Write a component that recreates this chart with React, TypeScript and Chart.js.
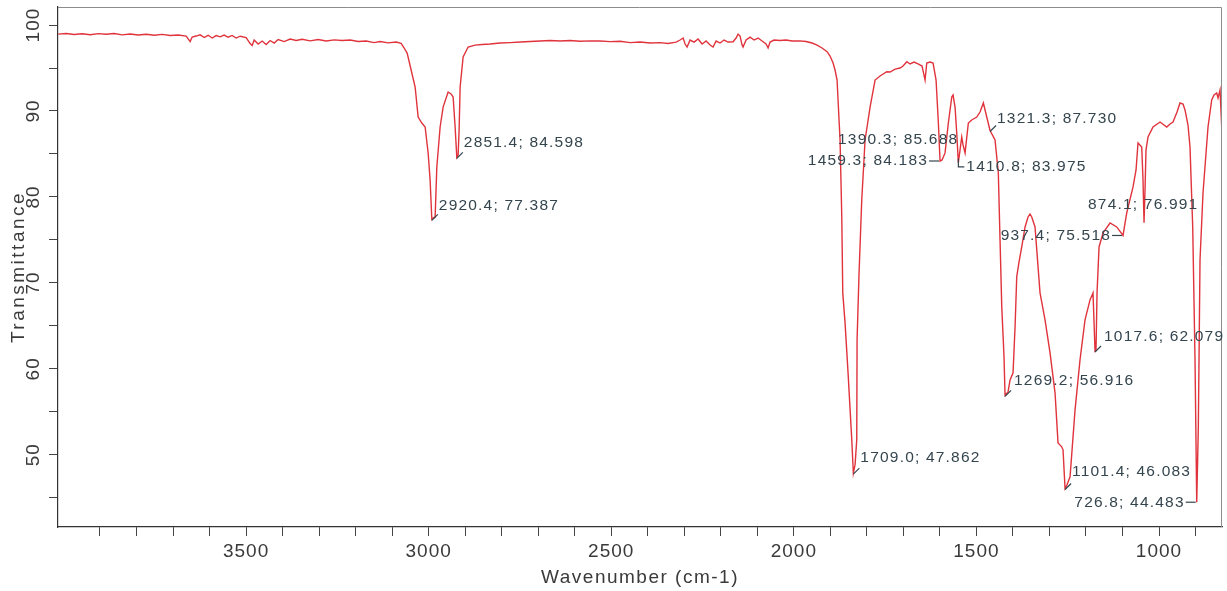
import React, { useEffect, useRef } from "react";
import { Chart, registerables } from "chart.js";

Chart.register(...registerables);

// ---- spectrum data (wavenumber on the plotted axis, % transmittance) ----
const wavenumber = [
  4014.5, 3992.6, 3970.7, 3948.8, 3926.9, 3905.0, 3883.1, 3861.2, 3839.3, 3817.4,
  3795.5, 3773.6, 3751.6, 3729.7, 3707.8, 3685.9, 3664.0, 3653.1, 3647.6, 3636.7,
  3625.7, 3614.7, 3603.8, 3592.8, 3581.9, 3570.9, 3560.0, 3549.0, 3538.1, 3527.1,
  3516.2, 3499.8, 3488.8, 3483.3, 3477.8, 3466.9, 3455.9, 3445.0, 3434.0, 3423.1,
  3412.1, 3395.7, 3379.3, 3362.9, 3346.4, 3324.5, 3302.6, 3280.7, 3258.8, 3236.9,
  3215.0, 3193.1, 3171.2, 3149.3, 3132.9, 3111.0, 3089.1, 3075.4, 3067.1, 3058.9,
  3048.0, 3037.0, 3028.8, 3018.7, 3009.6, 3001.4, 2996.0, 2991.3, 2987.7, 2982.3,
  2977.6, 2968.6, 2960.4, 2946.7, 2938.5, 2933.0, 2927.5, 2922.9, 2919.3, 2916.6,
  2913.8, 2905.6, 2891.9, 2872.7, 2853.6, 2831.7, 2804.3, 2776.9, 2749.5, 2722.2,
  2694.8, 2667.4, 2640.0, 2612.6, 2585.3, 2557.9, 2530.5, 2503.1, 2475.7, 2448.4,
  2421.0, 2393.6, 2366.2, 2344.3, 2322.4, 2311.5, 2303.2, 2297.8, 2292.3, 2284.1,
  2273.1, 2262.2, 2251.2, 2240.3, 2229.3, 2221.1, 2212.9, 2201.9, 2191.0, 2180.0,
  2166.4, 2158.1, 2152.7, 2147.2, 2141.7, 2139.0, 2130.8, 2119.8, 2108.8, 2097.9,
  2086.9, 2076.0, 2070.5, 2065.0, 2054.1, 2037.7, 2021.2, 2004.8, 1982.9, 1966.5,
  1950.0, 1936.3, 1922.7, 1909.0, 1900.8, 1892.5, 1887.1, 1881.6, 1873.4, 1868.7,
  1866.0, 1859.7, 1851.5, 1841.3, 1837.0, 1832.3, 1827.7, 1826.8, 1821.4, 1814.0,
  1804.9, 1791.2, 1777.5, 1763.9, 1745.5, 1736.5, 1722.8, 1709.1, 1700.9, 1690.6,
  1681.7, 1670.8, 1659.8, 1648.9, 1640.6, 1636.0, 1627.0, 1618.7, 1610.5, 1604.2,
  1599.6, 1594.1, 1585.9, 1576.9, 1567.5, 1564.0, 1558.5, 1553.9, 1549.5, 1544.8,
  1540.2, 1536.6, 1531.1, 1522.1, 1512.8, 1499.1, 1490.1, 1481.0, 1471.7, 1462.7,
  1449.0, 1440.0, 1435.3, 1430.6, 1424.4, 1421.6, 1413.4, 1407.9, 1399.7, 1394.2,
  1389.6, 1383.3, 1375.9, 1366.8, 1358.6, 1353.2, 1348.5, 1339.5, 1325.8, 1312.1,
  1298.4, 1284.7, 1276.5, 1266.4, 1262.8, 1257.3, 1251.9, 1243.6, 1229.9, 1216.3,
  1202.6, 1188.9, 1180.7, 1175.2, 1172.5, 1169.7, 1164.2, 1153.3, 1134.1, 1115.8,
  1098.5, 1088.4, 1071.1, 1062.9, 1057.5, 1047.3, 1043.8, 1041.0, 1038.3, 1035.6,
  1030.1, 1016.4, 997.2, 978.9, 969.8, 961.6, 950.7, 942.5, 934.2, 928.8,
  920.6, 915.1, 907.7, 901.4, 896.7, 892.3, 887.7, 879.5, 865.8, 855.7,
  849.3, 842.0, 838.4, 832.9, 828.3,
];

const transmittance = [
  98.95, 99.01, 98.90, 98.98, 98.88, 99.00, 98.93, 99.02, 98.86, 98.95,
  98.84, 98.93, 98.81, 98.91, 98.79, 98.84, 98.72, 98.08, 98.60, 98.72,
  98.86, 98.55, 98.81, 98.49, 98.77, 98.63, 98.84, 98.58, 98.79, 98.49,
  98.70, 98.55, 97.85, 97.62, 98.26, 97.79, 98.14, 97.73, 98.20, 97.91,
  98.31, 98.08, 98.37, 98.20, 98.35, 98.16, 98.31, 98.14, 98.28, 98.20,
  98.26, 98.08, 98.14, 97.96, 98.08, 97.93, 98.02, 97.87, 97.33, 96.74,
  94.77, 92.79, 89.30, 88.60, 88.14, 85.12, 81.97, 77.39, 77.55, 77.67,
  83.49, 88.14, 90.46, 92.21, 91.98, 91.63, 88.14, 84.60, 84.88, 87.79,
  92.79, 96.28, 97.44, 97.67, 97.73, 97.79, 97.91, 97.96, 98.02, 98.08,
  98.14, 98.20, 98.14, 98.20, 98.12, 98.16, 98.14, 98.07, 98.12, 97.96,
  98.02, 97.91, 97.96, 97.85, 98.02, 98.26, 98.49, 97.79, 97.44, 98.26,
  98.02, 98.37, 97.79, 98.14, 97.67, 97.44, 98.14, 97.91, 98.26, 98.02,
  98.06, 98.49, 98.95, 98.72, 97.67, 97.44, 98.26, 98.60, 98.26, 98.49,
  98.14, 97.79, 97.33, 98.02, 98.26, 98.20, 98.26, 98.14, 98.16, 98.08,
  97.91, 97.67, 97.33, 96.90, 96.40, 95.58, 94.77, 93.60, 86.63, 77.67,
  68.84, 65.35, 59.53, 51.74, 47.86, 48.84, 51.74, 63.37, 71.16, 79.65,
  86.63, 90.46, 93.60, 94.07, 94.57, 94.53, 94.88, 95.00, 95.23, 95.73,
  95.47, 95.70, 95.47, 95.23, 93.60, 95.58, 95.70, 95.58, 93.60, 88.60,
  84.18, 84.30, 85.12, 88.60, 91.63, 91.86, 90.46, 87.44, 83.98, 85.47,
  86.98, 86.05, 85.12, 88.60, 88.95, 89.30, 89.88, 90.93, 89.30, 87.73,
  86.63, 82.79, 75.00, 67.21, 61.39, 56.92, 57.32, 58.72, 59.53, 64.88,
  70.70, 72.44, 74.18, 76.51, 77.67, 78.02, 77.67, 76.51, 68.84, 65.70,
  61.86, 57.21, 51.39, 50.93, 50.58, 46.08, 46.51, 47.44, 55.23, 61.05,
  65.70, 68.02, 68.84, 62.08, 62.21, 68.84, 74.18, 75.81, 76.97, 76.51,
  75.52, 78.14, 81.16, 83.14, 86.28, 85.81, 81.97, 76.99, 80.81, 85.47,
  86.98, 88.14, 88.72, 88.14, 88.49, 88.72, 89.88, 90.93, 90.81, 90.12,
  88.37, 85.81, 76.51, 61.05, 44.48, 53.26, 72.67, 80.46, 88.14, 91.28,
  91.86, 92.09, 91.51, 92.44, 88.14,
];

// ---- peak annotations ----
const peakText = [
  "2851.4; 84.598", "2920.4; 77.387", "1709.0; 47.862", "1459.3; 84.183",
  "1390.3; 85.688", "1410.8; 83.975", "1321.3; 87.730", "1269.2; 56.916",
  "1101.4; 46.083", "1017.6; 62.079", "937.4; 75.518", "874.1; 76.991",
  "726.8; 44.483",
];
const peakWavenumber = [
  2922.9, 2991.3, 1837.0, 1599.6, 1536.6, 1549.5, 1462.7, 1421.6,
  1257.3, 1175.2, 1098.5, 1041.0, 896.7,
];
const peakTransmittance = [
  84.598, 77.387, 47.862, 84.183, 85.688, 83.975, 87.73, 56.916,
  46.083, 62.079, 75.518, 76.991, 44.483,
];

// ---- axes ----
const X_MIN = 827.5;
const X_MAX = 4015;
const Y_MIN = 41.6;
const Y_MAX = 102.1;
const xTickValues = [
  900, 1000, 1100, 1200, 1300, 1400, 1500, 1600, 1700, 1800, 1900, 2000,
  2100, 2200, 2300, 2400, 2500, 2600, 2700, 2800, 2900, 3000, 3100, 3200,
  3300, 3400, 3500, 3600, 3700, 3800, 3900,
];
const xLabelValues = [1000, 1500, 2000, 2500, 3000, 3500];
const yTickValues = [45, 50, 55, 60, 65, 70, 75, 80, 85, 90, 95, 100];
const yLabelValues = [50, 60, 70, 80, 90, 100];
const xTitle = "Wavenumber (cm-1)";
const yTitle = "Transmittance";

// ---- label placement styles (pixel offsets from the peak) ----
type Placement = { kind: "hook" | "dashLeft" | "elbow" | "none"; dx?: number; dy?: number };
const peakPlacement: Placement[] = [
  { kind: "hook", dx: 7, dy: -15 },
  { kind: "hook", dx: 7, dy: -14 },
  { kind: "hook", dx: 7, dy: -15 },
  { kind: "dashLeft" },
  { kind: "none", dx: -125, dy: -8 },
  { kind: "elbow" },
  { kind: "hook", dx: 7, dy: -12 },
  { kind: "hook", dx: 9, dy: -15 },
  { kind: "hook", dx: 7, dy: -17 },
  { kind: "hook", dx: 9, dy: -14 },
  { kind: "dashLeft" },
  { kind: "none", dx: -56, dy: -18 },
  { kind: "dashLeft" },
];

const FONT = '"Liberation Sans", Arial, sans-serif';

const overlayPlugin = {
  id: "overlay",
  afterDraw(chart: any) {
    const { ctx, chartArea: ca } = chart;
    const xs = chart.scales.x;
    const ys = chart.scales.y;
    ctx.save();
    // frame top/right
    ctx.strokeStyle = "#8c8c8c";
    ctx.lineWidth = 1;
    ctx.beginPath();
    ctx.moveTo(ca.left, ca.top + 0.5);
    ctx.lineTo(ca.right - 0.5, ca.top + 0.5);
    ctx.lineTo(ca.right - 0.5, ca.bottom);
    ctx.stroke();

    // x tick labels
    (ctx as any).letterSpacing = "1px";
    ctx.fillStyle = "#3a3a3a";
    ctx.font = `19px ${FONT}`;
    ctx.textAlign = "center";
    ctx.textBaseline = "middle";
    xLabelValues.forEach((v) => {
      ctx.fillText(String(v), xs.getPixelForValue(v), 552);
    });
    // y tick labels (rotated)
    yLabelValues.forEach((v) => {
      ctx.save();
      ctx.translate(34, ys.getPixelForValue(v));
      ctx.rotate(-Math.PI / 2);
      ctx.fillText(String(v), 0, 0);
      ctx.restore();
    });
    // titles
    (ctx as any).letterSpacing = "1.5px";
    ctx.fillText(xTitle, (ca.left + ca.right) / 2, 578);
    ctx.save();
    (ctx as any).letterSpacing = "2.5px";
    ctx.translate(19, (ca.top + ca.bottom) / 2);
    ctx.rotate(-Math.PI / 2);
    ctx.fillText(yTitle, 0, 0);
    ctx.restore();

    // peak labels
    (ctx as any).letterSpacing = "1.2px";
    ctx.font = `15.5px ${FONT}`;
    ctx.fillStyle = "#34454e";
    ctx.strokeStyle = "#34454e";
    ctx.lineWidth = 1.2;
    peakText.forEach((t, i) => {
      const ax = xs.getPixelForValue(peakWavenumber[i]);
      const ay = ys.getPixelForValue(peakTransmittance[i]);
      const p = peakPlacement[i];
      ctx.textBaseline = "middle";
      if (p.kind === "hook") {
        ctx.beginPath();
        ctx.moveTo(ax, ay + 1);
        ctx.lineTo(ax + 6, ay - 5);
        ctx.stroke();
        ctx.textAlign = "left";
        ctx.fillText(t, ax + (p.dx ?? 7), ay + (p.dy ?? -15));
      } else if (p.kind === "dashLeft") {
        ctx.beginPath();
        ctx.moveTo(ax - 11, ay);
        ctx.lineTo(ax - 1, ay);
        ctx.stroke();
        ctx.textAlign = "right";
        ctx.fillText(t, ax - 12, ay);
      } else if (p.kind === "elbow") {
        ctx.beginPath();
        ctx.moveTo(ax, ay - 4);
        ctx.lineTo(ax, ay + 4);
        ctx.lineTo(ax + 6, ay + 4);
        ctx.stroke();
        ctx.textAlign = "left";
        ctx.fillText(t, ax + 8, ay + 4);
      } else {
        ctx.textAlign = "left";
        ctx.fillText(t, ax + (p.dx ?? 0), ay + (p.dy ?? 0));
      }
    });
    ctx.restore();
  },
};

export default function App() {
  const canvasRef = useRef<HTMLCanvasElement | null>(null);

  useEffect(() => {
    const canvas = canvasRef.current;
    if (!canvas) return;
    const points = wavenumber.map((w, i) => ({ x: w, y: transmittance[i] }));
    const chart = new Chart(canvas, {
      type: "line",
      data: {
        datasets: [
          {
            data: points,
            borderColor: "#e0333c",
            borderWidth: 1.4,
            pointRadius: 0,
            tension: 0,
            fill: false,
          },
        ],
      },
      options: {
        animation: false,
        responsive: false,
        devicePixelRatio: 1,
        events: [],
        layout: { padding: { top: 7, right: 5, left: 0, bottom: 0 } },
        plugins: {
          legend: { display: false },
          tooltip: { enabled: false },
          title: { display: false },
        },
        scales: {
          x: {
            type: "linear",
            reverse: true,
            min: X_MIN,
            max: X_MAX,
            afterBuildTicks: (s: any) => {
              s.ticks = xTickValues.map((v) => ({ value: v }));
            },
            afterFit: (s: any) => {
              s.height = 64;
            },
            ticks: { display: false },
            grid: {
              drawOnChartArea: false,
              drawTicks: true,
              tickLength: 9,
              color: "#444",
              lineWidth: 1,
            },
            border: { display: true, color: "#333", width: 1.2 },
          },
          y: {
            type: "linear",
            min: Y_MIN,
            max: Y_MAX,
            afterBuildTicks: (s: any) => {
              s.ticks = yTickValues.map((v) => ({ value: v }));
            },
            afterFit: (s: any) => {
              s.width = 58;
            },
            ticks: { display: false },
            grid: {
              drawOnChartArea: false,
              drawTicks: true,
              tickLength: 9,
              color: "#444",
              lineWidth: 1,
            },
            border: { display: true, color: "#333", width: 1.2 },
          },
        },
      },
      plugins: [overlayPlugin],
    });
    return () => chart.destroy();
  }, []);

  return (
    <div style={{ position: "fixed", left: 0, top: 0, width: 1227, height: 591, background: "#fff" }}>
      <canvas ref={canvasRef} width={1227} height={591} style={{ width: 1227, height: 591, display: "block" }} />
    </div>
  );
}
